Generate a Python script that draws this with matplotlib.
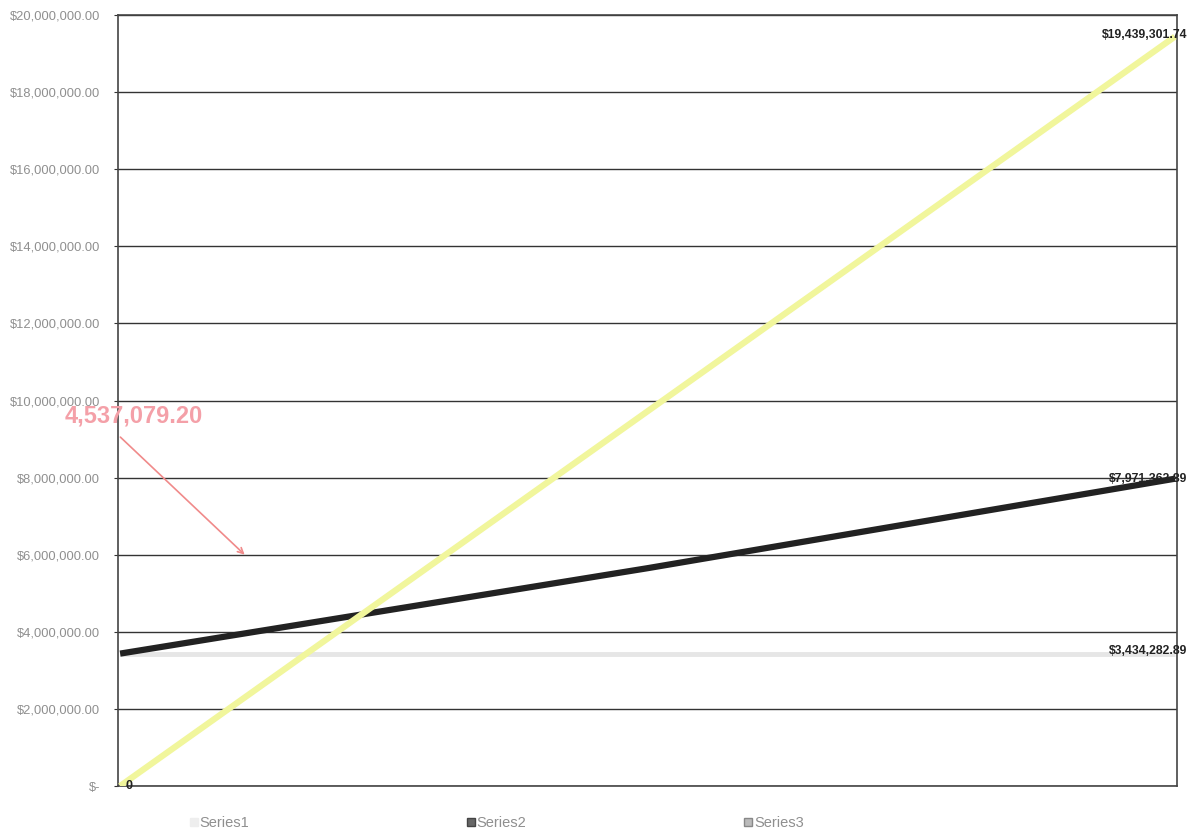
import matplotlib.pyplot as plt
from matplotlib.ticker import FuncFormatter
from matplotlib.lines import Line2D

plt.rcParams['font.family'] = ['Liberation Sans', 'DejaVu Sans']

# periods (no labels on the x axis in the original)
periods = [0, 15, 30]
series1 = [3434282.89, 3434282.89, 3434282.89]
series2 = [3434282.89, 5650000.00, 7971362.89]
series3 = [0.0, 9719650.87, 19439301.74]
series_names = ['Series1', 'Series2', 'Series3']
y_ticks = [0, 2e6, 4e6, 6e6, 8e6, 10e6, 12e6, 14e6, 16e6, 18e6, 20e6]
gap_label = '4,537,079.20'

fig = plt.figure(figsize=(11.99, 8.34), dpi=100)
ax = fig.add_axes([118 / 1199, 1 - 786 / 834, (1177 - 118) / 1199, (786 - 15) / 834])

c1, c2, c3 = '#e6e6e6', '#222222', '#f1f69c'
ax.plot(periods, series1, color=c1, lw=3.5, solid_capstyle='butt', zorder=3)
ax.plot(periods, series2, color=c2, lw=4.5, solid_capstyle='butt', zorder=4)
ax.plot(periods, series3, color=c3, lw=4.5, solid_capstyle='butt', zorder=5)

ax.set_xlim(-0.06, 30.06)
ax.set_ylim(0, 20e6)
ax.set_yticks(y_ticks)
ax.set_xticks([])


def money(v, pos):
    if v == 0:
        return '$-'
    return '${:,.2f}'.format(v)


ax.yaxis.set_major_formatter(FuncFormatter(money))
ax.tick_params(axis='y', labelsize=9.3, labelcolor='#8f8f8f', length=3, color='#333333', pad=10)
ax.grid(axis='y', color='#333333', lw=1.0)
ax.set_axisbelow(True)
for s in ax.spines.values():
    s.set_color('#444444')
    s.set_linewidth(1.2)

# end-point data labels
lab_kw = dict(textcoords='offset points', fontsize=8.8, fontweight='bold', color='#222222',
              ha='right', va='center', annotation_clip=False, zorder=6)
ax.annotate('${:,.2f}'.format(series3[-1]), (periods[-1], series3[-1]), xytext=(9, 1), **lab_kw)
ax.annotate('${:,.2f}'.format(series2[-1]), (periods[-1], series2[-1]), xytext=(9, 0), **lab_kw)
ax.annotate('${:,.2f}'.format(series1[-1]), (periods[-1], series1[-1]), xytext=(9, 2), **lab_kw)
ax.annotate('0', (periods[0], series3[0]), xytext=(4, 0), textcoords='offset points',
            fontsize=9, fontweight='bold', color='#222222', ha='left', va='center',
            annotation_clip=False, zorder=6)

# pink call-out with arrow
ax.annotate('', xy=(3.6, 5.95e6), xytext=(-0.05, 9.1e6),
            arrowprops=dict(arrowstyle='->', color='#f08a8a', lw=1.2), annotation_clip=False)
fig.text(65 / 1199, 1 - 416 / 834, gap_label, fontsize=17, fontweight='bold',
         color='#f4a0a8', ha='left', va='center')

# legend along the bottom
handles = [Line2D([], [], marker='s', ls='none', markersize=5.5, color=c, markeredgecolor=e)
           for c, e in [('#eeeeee', '#eeeeee'), ('#666666', '#444444'), ('#bbbbbb', '#888888')]]
leg = fig.legend(handles, series_names, loc='center left', bbox_to_anchor=(182 / 1199, 1 - 823 / 834),
                 ncol=3, frameon=False, fontsize=10.5, handlelength=0.6, handletextpad=0.1,
                 columnspacing=14.9, borderpad=0)
for t in leg.get_texts():
    t.set_color('#8f8f8f')

fig.savefig('out.png', dpi=100)
